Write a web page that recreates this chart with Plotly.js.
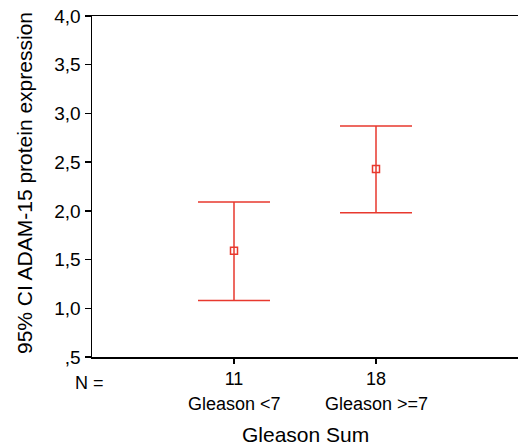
<!DOCTYPE html>
<html>
<head>
<meta charset="utf-8">
<script src="https://cdn.plot.ly/plotly-3.0.1.min.js"></script>
<style>html,body{margin:0;padding:0;background:#fff;}#chart{width:518px;height:447px;}</style>
</head>
<body>
<div id="chart"></div>
<script>
// Data
var groups = ["Gleason <7", "Gleason >=7"];
var nCounts = ["11", "18"];
var means = [1.59, 2.43];
var ciUpper = [2.09, 2.87];
var ciLower = [1.08, 1.98];
var yTickVals = [0.5, 1.0, 1.5, 2.0, 2.5, 3.0, 3.5, 4.0];
var yTickText = [",5", "1,0", "1,5", "2,0", "2,5", "3,0", "3,5", "4,0"];

var xPos = groups.map(function (g, i) { return i; });
var errPlus = means.map(function (m, i) { return ciUpper[i] - m; });
var errMinus = means.map(function (m, i) { return m - ciLower[i]; });

var red = '#e8392e';
var font = 'Liberation Sans, Arial, sans-serif';

var trace = {
  type: 'scatter',
  mode: 'markers',
  x: xPos,
  y: means,
  marker: {symbol: 'square-open', size: 7, color: red, line: {width: 1.5, color: red}},
  error_y: {type: 'data', symmetric: false, array: errPlus, arrayminus: errMinus,
            color: red, thickness: 1.5, width: 36},
  hoverinfo: 'none',
  showlegend: false
};

var annotations = [
  {text: 'N =', xref: 'paper', yref: 'paper', x: (89 - 92) / 426, y: (357 - 383) / 341,
   xanchor: 'center', yanchor: 'middle', showarrow: false, font: {family: font, size: 18, color: '#000'}},
  {text: 'Gleason Sum', xref: 'paper', yref: 'paper', x: 0.5, y: (357 - 434) / 341,
   xanchor: 'center', yanchor: 'middle', showarrow: false, font: {family: font, size: 21, color: '#000'}},
  {text: '95% CI ADAM-15 protein expression', xref: 'paper', yref: 'paper', x: (24 - 92) / 426, y: (357 - 183) / 341,
   xanchor: 'center', yanchor: 'middle', textangle: -90, showarrow: false, font: {family: font, size: 21, color: '#000'}}
];
groups.forEach(function (g, i) {
  annotations.push({text: g, xref: 'x', yref: 'paper', x: xPos[i], y: (357 - 404) / 341,
    xanchor: 'center', yanchor: 'middle', showarrow: false, font: {family: font, size: 18, color: '#000'}});
});

var layout = {
  width: 518, height: 447,
  margin: {l: 92, r: 0, t: 16, b: 90},
  paper_bgcolor: '#fff', plot_bgcolor: '#fff',
  font: {family: font, color: '#000'},
  xaxis: {range: [-1, 2], tickvals: xPos, ticktext: nCounts, ticks: 'outside', ticklen: 5,
          tickwidth: 1.5, tickcolor: '#000', showline: true, linecolor: '#000', linewidth: 1.5,
          mirror: true, showgrid: false, zeroline: false, tickfont: {family: font, size: 18}},
  yaxis: {range: [0.5, 4.0], tickvals: yTickVals, ticktext: yTickText, ticks: 'outside', ticklen: 6,
          tickwidth: 1.5, tickcolor: '#000', showline: true, linecolor: '#000', linewidth: 1.5,
          showgrid: false, zeroline: false, tickfont: {family: font, size: 19}},
  annotations: annotations
};

Plotly.newPlot('chart', [trace], layout, {displayModeBar: false, staticPlot: true});
</script>
</body>
</html>
